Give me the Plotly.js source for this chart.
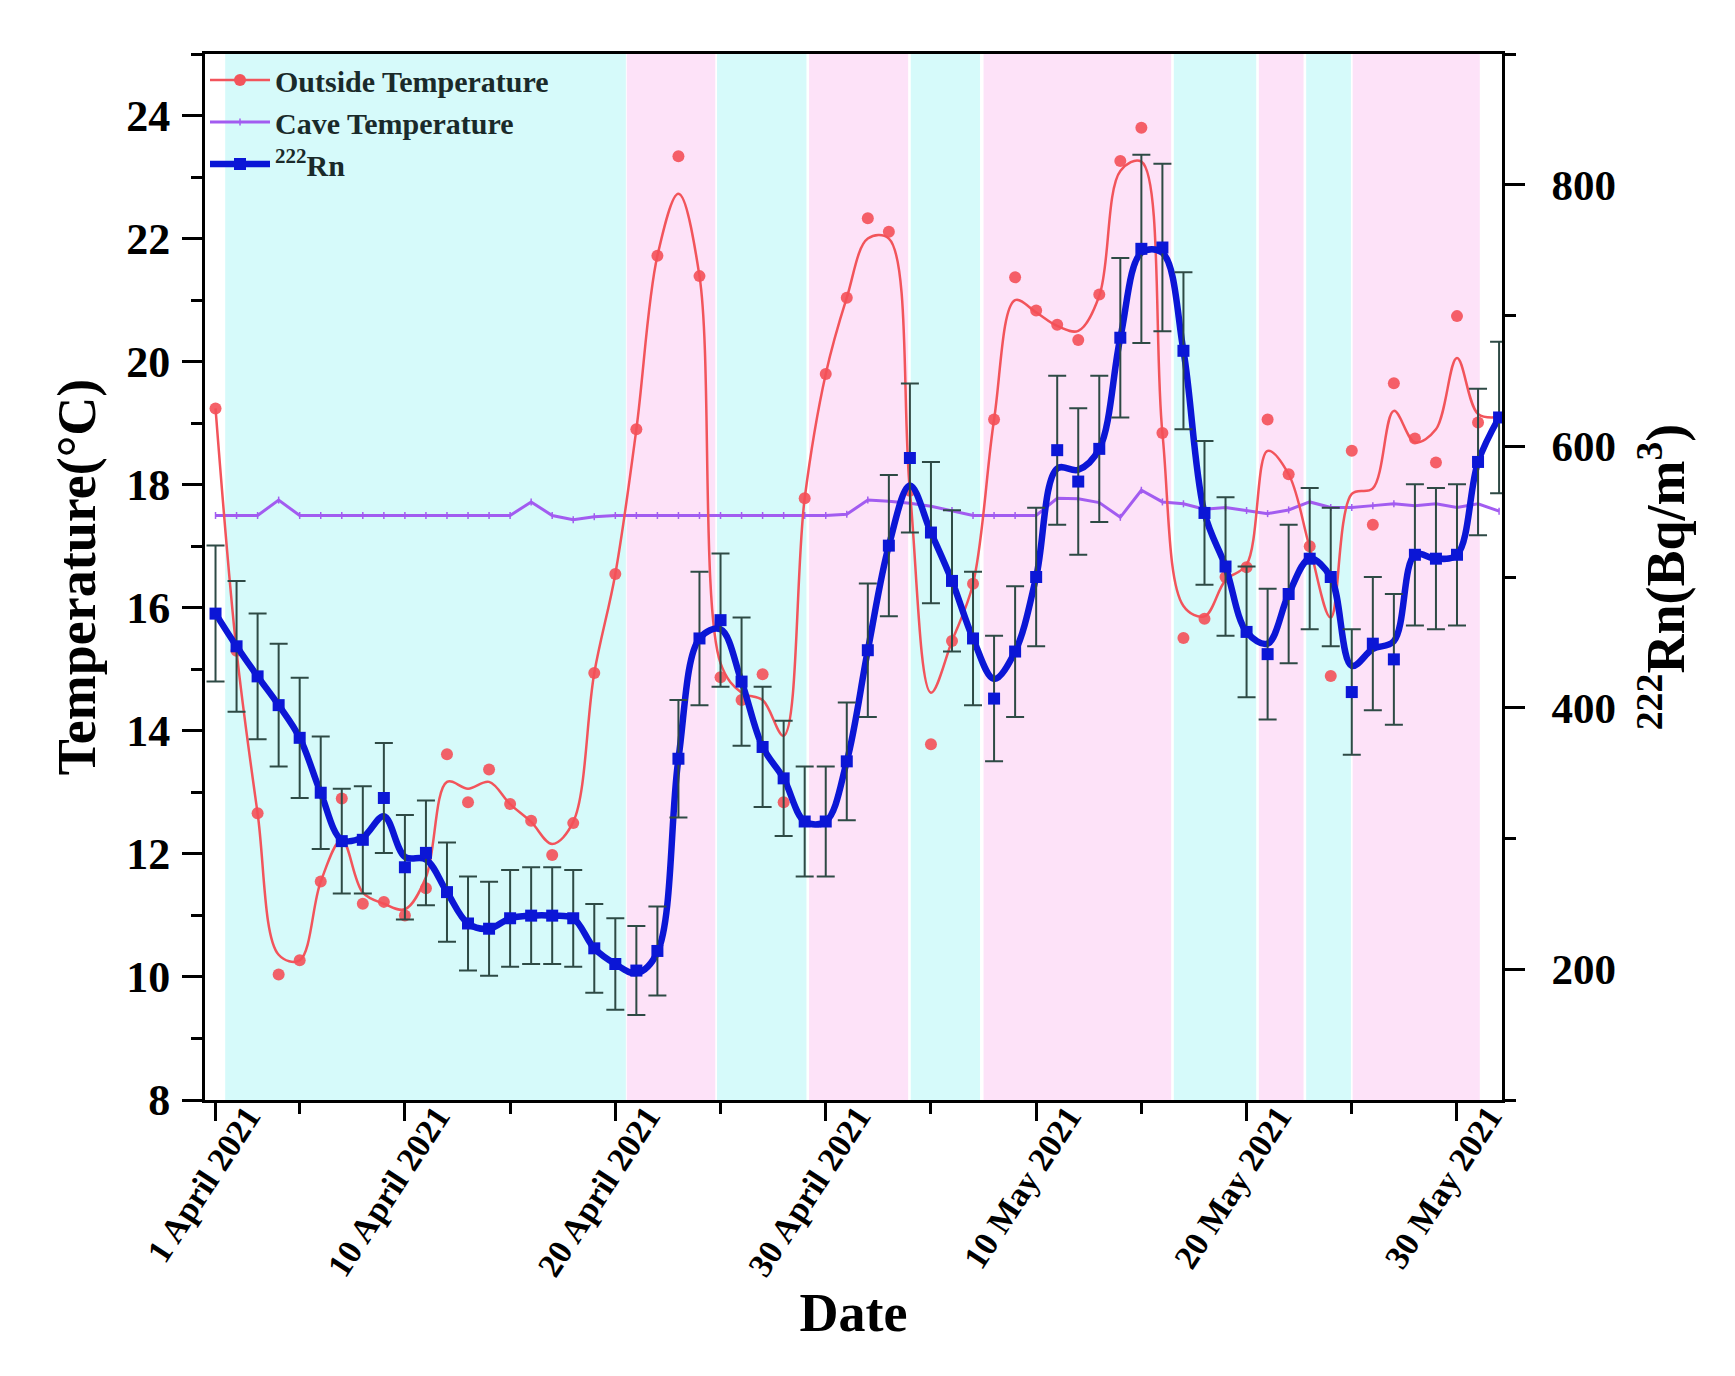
<!DOCTYPE html>
<html>
<head>
<meta charset="utf-8">
<script src="https://cdn.plot.ly/plotly-3.0.1.min.js"></script>
<style>html,body{margin:0;padding:0;background:#fff;}#chart{width:1735px;height:1376px;}</style>
</head>
<body>
<div id="chart"></div>
<script>
// ---- categories (one per day) ----
const dates = [
 '2021-04-01','2021-04-02','2021-04-03','2021-04-04','2021-04-05','2021-04-06','2021-04-07','2021-04-08','2021-04-09','2021-04-10',
 '2021-04-11','2021-04-12','2021-04-13','2021-04-14','2021-04-15','2021-04-16','2021-04-17','2021-04-18','2021-04-19','2021-04-20',
 '2021-04-21','2021-04-22','2021-04-23','2021-04-24','2021-04-25','2021-04-26','2021-04-27','2021-04-28','2021-04-29','2021-04-30',
 '2021-05-01','2021-05-02','2021-05-03','2021-05-04','2021-05-05','2021-05-06','2021-05-07','2021-05-08','2021-05-09','2021-05-10',
 '2021-05-11','2021-05-12','2021-05-13','2021-05-14','2021-05-15','2021-05-16','2021-05-17','2021-05-18','2021-05-19','2021-05-20',
 '2021-05-21','2021-05-22','2021-05-23','2021-05-24','2021-05-25','2021-05-26','2021-05-27','2021-05-28','2021-05-29','2021-05-30',
 '2021-05-31','2021-06-01'
];

// ---- Outside temperature (°C): measured points ----
const outsideTemp = [
 19.24,15.3,12.66,10.04,10.27,11.55,12.9,11.19,11.22,11.0,
 11.44,13.62,12.84,13.37,12.81,12.54,11.98,12.5,14.94,16.55,
 18.9,21.72,23.34,21.39,14.87,14.5,14.92,12.84,17.78,19.8,
 21.04,22.33,22.11,17.9,13.78,15.46,16.39,19.06,21.37,20.83,
 20.6,20.35,21.09,23.26,23.8,18.84,15.51,15.82,16.5,16.66,
 19.06,18.17,17.0,14.89,18.55,17.35,19.65,18.75,18.36,20.74,
 19.01,null
];
// ---- Outside temperature (°C): smoothed curve as drawn ----
const outsideSmooth = [
 19.24,15.3,12.66,10.36,10.27,11.55,12.23,11.37,11.19,11.1,
 11.62,13.17,13.06,13.17,12.81,12.52,12.16,12.52,14.94,16.55,
 18.9,21.72,22.73,21.39,15.1,14.62,14.5,13.92,17.78,19.8,
 21.04,22.0,22.0,17.9,14.62,15.46,16.39,19.06,21.0,20.8,
 20.58,20.5,21.07,23.1,23.25,18.84,16.03,15.86,16.45,16.7,
 18.55,18.17,16.98,15.84,17.85,17.94,19.2,18.69,18.9,20.06,
 19.15,19.1
];
// ---- Cave temperature (°C) ----
const caveTemp = [
 17.5,17.5,17.5,17.75,17.5,17.5,17.5,17.5,17.5,17.5,
 17.5,17.5,17.5,17.5,17.5,17.72,17.5,17.43,17.48,17.5,
 17.5,17.5,17.5,17.5,17.5,17.5,17.5,17.5,17.5,17.5,
 17.52,17.75,17.73,17.7,17.65,17.58,17.5,17.5,17.5,17.5,
 17.78,17.77,17.71,17.47,17.91,17.72,17.69,17.6,17.63,17.58,
 17.53,17.59,17.72,17.63,17.63,17.66,17.69,17.66,17.69,17.63,
 17.69,17.57
];
// ---- 222Rn (Bq/m3): measured points, smoothed curve, error ----
const radon = [
 472,447,424,402,377,335,298,299,331,278,
 289,259,235,231,239,241,241,239,216,204,
 199,214,361,453,467,420,370,346,313,313,
 359,444,524,591,534,497,453,407,443,500,
 597,573,598,683,751,752,673,549,508,458,
 441,487,514,500,412,449,437,517,514,517,
 588,622
];
const radonSmooth = [
 472,447,424,402,377,335,299,301,317,286,
 284,259,235,231,239,241,241,239,216,204,
 197,213,361,453,460,420,370,346,313,313,
 359,444,524,570,534,497,453,422,443,500,
 583,582,598,683,748,748,673,549,508,458,
 449,487,514,500,432,445,451,517,514,517,
 588,622
];
const radonErr = [
 52,50,48,47,46,43,40,41,42,40,
 40,38,36,36,37,37,37,37,34,35,
 34,34,45,51,51,49,46,44,42,42,
 45,51,54,57,54,54,51,48,50,53,
 57,56,56,61,72,64,60,55,53,50,
 50,53,54,53,48,51,50,54,54,54,
 56,58
];

// ---- shaded periods (start, end, kind) ----
const bandStart = ['2021-04-01 11:00','2021-04-20 13:00','2021-04-24 20:00','2021-04-29 05:00','2021-05-04 01:00','2021-05-07 12:00','2021-05-16 13:00','2021-05-20 14:00','2021-05-22 20:00','2021-05-25 01:00'];
const bandEnd   = ['2021-04-20 12:00','2021-04-24 18:00','2021-04-29 02:00','2021-05-03 22:00','2021-05-07 08:00','2021-05-16 10:00','2021-05-20 11:00','2021-05-22 17:00','2021-05-24 23:00','2021-05-31 02:00'];
const bandKind  = ['cyan','pink','cyan','pink','cyan','pink','cyan','pink','cyan','pink'];

// ---- tick labels ----
const tickDates  = ['2021-04-01','2021-04-10','2021-04-20','2021-04-30','2021-05-10','2021-05-20','2021-05-30'];
const tickLabels = ['1 April 2021','10 April 2021','20 April 2021','30 April 2021','10 May 2021','20 May 2021','30 May 2021'];
const minorTickDates = ['2021-04-05','2021-04-15','2021-04-25','2021-05-05','2021-05-15','2021-05-25'];

const FONT = 'Liberation Serif, Times New Roman, serif';
const RED = '#f2545b', PURPLE = '#a25cf0', BLUE = '#0b16d6', ERR = '#2e4a45';
const bandFill = {cyan: 'rgba(214,250,250,1)', pink: 'rgba(253,226,248,1)'};

const traces = [
  // cave temperature
  {x: dates, y: caveTemp, type: 'scatter', mode: 'lines+markers', name: 'Cave Temperature',
   line: {color: PURPLE, width: 3}, marker: {symbol: 'line-ns', size: 5, line: {color: PURPLE, width: 1.5}},
   showlegend: false, yaxis: 'y'},
  // outside temperature curve + points
  {x: dates, y: outsideSmooth, type: 'scatter', mode: 'lines', name: 'Outside Temperature',
   line: {color: RED, width: 2.5, shape: 'spline', smoothing: 1}, showlegend: false, yaxis: 'y'},
  {x: dates, y: outsideTemp, type: 'scatter', mode: 'markers', name: 'Outside Temperature',
   marker: {color: 'rgba(244,80,88,0.9)', size: 12, symbol: 'circle'}, showlegend: false, yaxis: 'y'},
  // radon curve + points with error bars
  {x: dates, y: radonSmooth, type: 'scatter', mode: 'lines', name: 'Rn',
   line: {color: BLUE, width: 6.5, shape: 'spline', smoothing: 1}, showlegend: false, yaxis: 'y2'},
  {x: dates, y: radon, type: 'scatter', mode: 'markers', name: 'Rn',
   marker: {color: BLUE, size: 12, symbol: 'square'},
   error_y: {type: 'data', array: radonErr, visible: true, color: ERR, thickness: 2, width: 9},
   showlegend: false, yaxis: 'y2'},
  // legend entries
  {x: [null], y: [null], type: 'scatter', mode: 'lines+markers', name: 'Outside Temperature',
   line: {color: RED, width: 2.5}, marker: {color: RED, size: 12}, yaxis: 'y'},
  {x: [null], y: [null], type: 'scatter', mode: 'lines+markers', name: 'Cave Temperature',
   line: {color: PURPLE, width: 3}, marker: {symbol: 'line-ns', size: 5, line: {color: PURPLE, width: 1.5}}, yaxis: 'y'},
  {x: [null], y: [null], type: 'scatter', mode: 'lines+markers', name: '<sup>222</sup>Rn',
   line: {color: BLUE, width: 6.5}, marker: {color: BLUE, size: 12, symbol: 'square'}, yaxis: 'y2'}
];

const shapes = bandStart.map((s, i) => ({
  type: 'rect', xref: 'x', yref: 'paper', x0: s, x1: bandEnd[i], y0: 0, y1: 1,
  fillcolor: bandFill[bandKind[i]], line: {width: 0}, layer: 'below'
}));

const axisTitleFont = {family: FONT, size: 54, color: '#000', weight: 'bold'};

const layout = {
  width: 1735, height: 1376,
  margin: {l: 205, r: 233, t: 54, b: 276, pad: 0},
  paper_bgcolor: '#fff', plot_bgcolor: '#fff',
  font: {family: FONT, color: '#000'},
  showlegend: true,
  legend: {x: 0, y: 1, xanchor: 'left', yanchor: 'top', bgcolor: 'rgba(0,0,0,0)', borderwidth: 0,
           font: {family: FONT, size: 30, color: '#1a2a2a', weight: 'bold'}, tracegroupgap: 0, itemwidth: 60},
  xaxis: {
    type: 'date', range: ['2021-03-31 12:00', '2021-06-01 03:20'],
    tickmode: 'array', tickvals: tickDates, ticktext: tickLabels, tickangle: -57,
    tickfont: {family: FONT, size: 34, color: '#000', weight: 'bold'},
    ticks: 'outside', ticklen: 18, tickwidth: 3, tickcolor: '#000',
    ticklabelshift: 32, ticklabelstandoff: -38,
    minor: {tickmode: 'array', tickvals: minorTickDates, ticks: 'outside', ticklen: 11, tickwidth: 3, tickcolor: '#000', showgrid: false},
    showline: true, linewidth: 3, linecolor: '#000', mirror: true,
    showgrid: false, zeroline: false,
    title: {text: 'Date', font: axisTitleFont, standoff: 8}
  },
  yaxis: {
    range: [8, 25], tickmode: 'array', tickvals: [8, 10, 12, 14, 16, 18, 20, 22, 24],
    tickfont: {family: FONT, size: 44, color: '#000', weight: 'bold'},
    ticks: 'outside', ticklen: 20, tickwidth: 3, tickcolor: '#000',
    minor: {dtick: 1, tick0: 0, ticks: 'outside', ticklen: 11, tickwidth: 3, tickcolor: '#000', showgrid: false},
    showline: true, linewidth: 3, linecolor: '#000',
    showgrid: false, zeroline: false, ticklabelstandoff: 3,
    title: {text: 'Temperature(°C)', font: axisTitleFont, standoff: 14}
  },
  yaxis2: {
    overlaying: 'y', side: 'right', range: [100, 900], tick0: 0, dtick: 200,
    tickfont: {family: FONT, size: 43, color: '#000', weight: 'bold'},
    ticks: 'outside', ticklen: 20, tickwidth: 3, tickcolor: '#000',
    minor: {dtick: 100, tick0: 0, ticks: 'outside', ticklen: 11, tickwidth: 3, tickcolor: '#000', showgrid: false},
    showline: true, linewidth: 3, linecolor: '#000',
    showgrid: false, zeroline: false, ticklabelstandoff: 18,
    title: {text: '<sup>222</sup>Rn(Bq/m<sup>3</sup>)', font: axisTitleFont, standoff: 32}
  },
  shapes: shapes
};

Plotly.newPlot('chart', traces, layout, {displayModeBar: false, staticPlot: true});
</script>
</body>
</html>
